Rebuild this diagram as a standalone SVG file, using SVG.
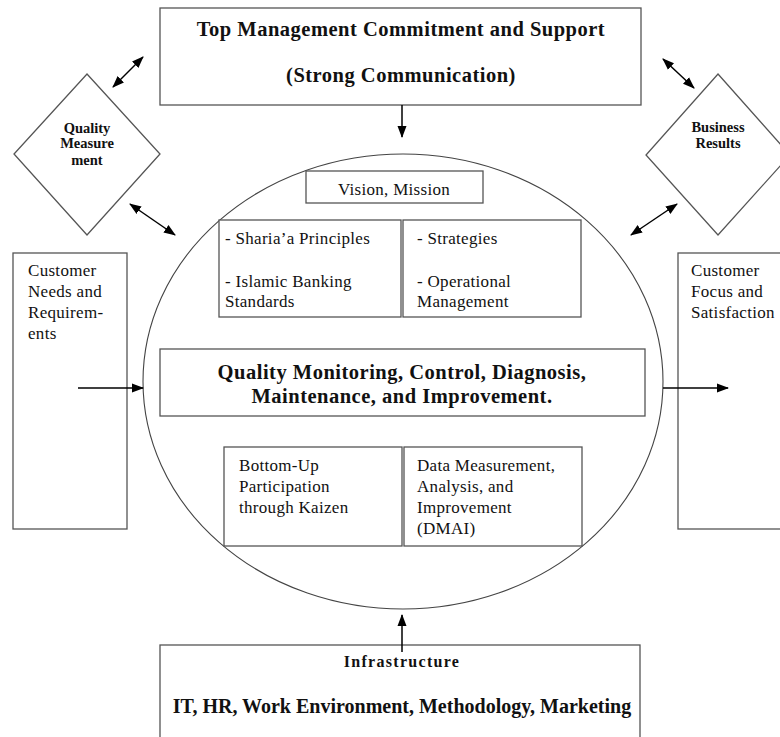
<svg xmlns="http://www.w3.org/2000/svg" width="780" height="737" viewBox="0 0 780 737">
<defs>
<marker id="ah" viewBox="0 0 12 10" refX="11" refY="5" markerWidth="12" markerHeight="10" markerUnits="userSpaceOnUse" orient="auto-start-reverse">
<path d="M0,0.5 L12,5 L0,9.5 Z" fill="#000"/>
</marker>
<style>
.box{fill:#fff;stroke:#555;stroke-width:1.3}
.ell{fill:none;stroke:#444;stroke-width:1.1}
.t{font-family:"Liberation Serif","Times New Roman",serif;font-size:17px;letter-spacing:0.3px;fill:#111}
.b{font-family:"Liberation Serif","Times New Roman",serif;font-weight:bold;fill:#111}
.h{font-size:20.5px;letter-spacing:0.5px}
.d{font-size:14.5px}
.c{text-anchor:middle}
.ar{stroke:#000;stroke-width:1.5;fill:none;marker-end:url(#ah)}
.ar2{stroke:#000;stroke-width:1.5;fill:none;marker-end:url(#ah);marker-start:url(#ah)}
</style>
</defs>
<rect width="780" height="737" fill="#fff"/>

<g id="core">
<ellipse class="ell" cx="403" cy="381.5" rx="260" ry="227.5"/>
</g>

<g id="top">
<rect class="box" x="160" y="8" width="481" height="97"/>
<text class="b h c" x="401" y="36">Top Management Commitment and Support</text>
<text class="b h c" x="401" y="82">(Strong Communication)</text>
</g>

<g id="qm">
<polygon class="box" points="87,74 160,154 87,235 14,154"/>
<text class="b d c" x="87" y="133">Quality</text>
<text class="b d c" x="87" y="148">Measure</text>
<text class="b d c" x="87" y="165">ment</text>
</g>

<g id="br">
<polygon class="box" points="718,74 790,155 718,235 646,155"/>
<text class="b d c" x="718" y="132">Business</text>
<text class="b d c" x="718" y="148">Results</text>
</g>

<g id="cust-needs">
<rect class="box" x="13" y="253" width="114" height="276"/>
<text class="t" x="28" y="276">Customer</text>
<text class="t" x="28" y="297">Needs and</text>
<text class="t" x="28" y="318">Requirem-</text>
<text class="t" x="28" y="339">ents</text>
</g>

<g id="cust-focus">
<rect class="box" x="678" y="253" width="110" height="276"/>
<text class="t" x="691" y="276">Customer</text>
<text class="t" x="691" y="297">Focus and</text>
<text class="t" x="691" y="318">Satisfaction</text>
</g>

<g id="vision">
<rect class="box" x="306" y="171" width="177" height="32"/>
<text class="t c" x="394" y="195">Vision, Mission</text>
</g>

<g id="sharia">
<rect class="box" x="219" y="220" width="182" height="97"/>
<text class="t" x="225" y="244">- Sharia’a Principles</text>
<text class="t" x="225" y="287">- Islamic Banking</text>
<text class="t" x="225" y="307">Standards</text>
</g>

<g id="strategies">
<rect class="box" x="403" y="220" width="178" height="97"/>
<text class="t" x="417" y="244">- Strategies</text>
<text class="t" x="417" y="287">- Operational</text>
<text class="t" x="417" y="307">Management</text>
</g>

<g id="quality">
<rect class="box" x="160" y="349" width="485" height="67"/>
<text class="b h c" x="402" y="379">Quality Monitoring, Control, Diagnosis,</text>
<text class="b h c" x="402" y="403">Maintenance, and Improvement.</text>
</g>

<g id="kaizen">
<rect class="box" x="224" y="447" width="178" height="99"/>
<text class="t" x="239" y="471">Bottom-Up</text>
<text class="t" x="239" y="492">Participation</text>
<text class="t" x="239" y="513">through Kaizen</text>
</g>

<g id="dmai">
<rect class="box" x="404" y="447" width="178" height="99"/>
<text class="t" x="417" y="471">Data Measurement,</text>
<text class="t" x="417" y="492">Analysis, and</text>
<text class="t" x="417" y="513">Improvement</text>
<text class="t" x="417" y="534">(DMAI)</text>
</g>

<g id="infra">
<rect class="box" x="160" y="645" width="480" height="100"/>
<text class="b c" x="402" y="667" font-size="16" letter-spacing="1.3">Infrastructure</text>
<text class="b c" x="402" y="713" font-size="20">IT, HR, Work Environment, Methodology, Marketing</text>
</g>

<g id="connectors">
<line class="ar" x1="402" y1="105" x2="402" y2="137"/>
<line class="ar" x1="402" y1="652" x2="402" y2="615"/>
<line class="ar" x1="78" y1="388" x2="143" y2="388"/>
<line class="ar" x1="663" y1="388" x2="728" y2="388"/>
<line class="ar2" x1="113" y1="87" x2="143" y2="57"/>
<line class="ar2" x1="130" y1="204" x2="175" y2="235"/>
<line class="ar2" x1="663" y1="59" x2="694" y2="88"/>
<line class="ar2" x1="677" y1="204" x2="631" y2="235"/>
</g>
</svg>
